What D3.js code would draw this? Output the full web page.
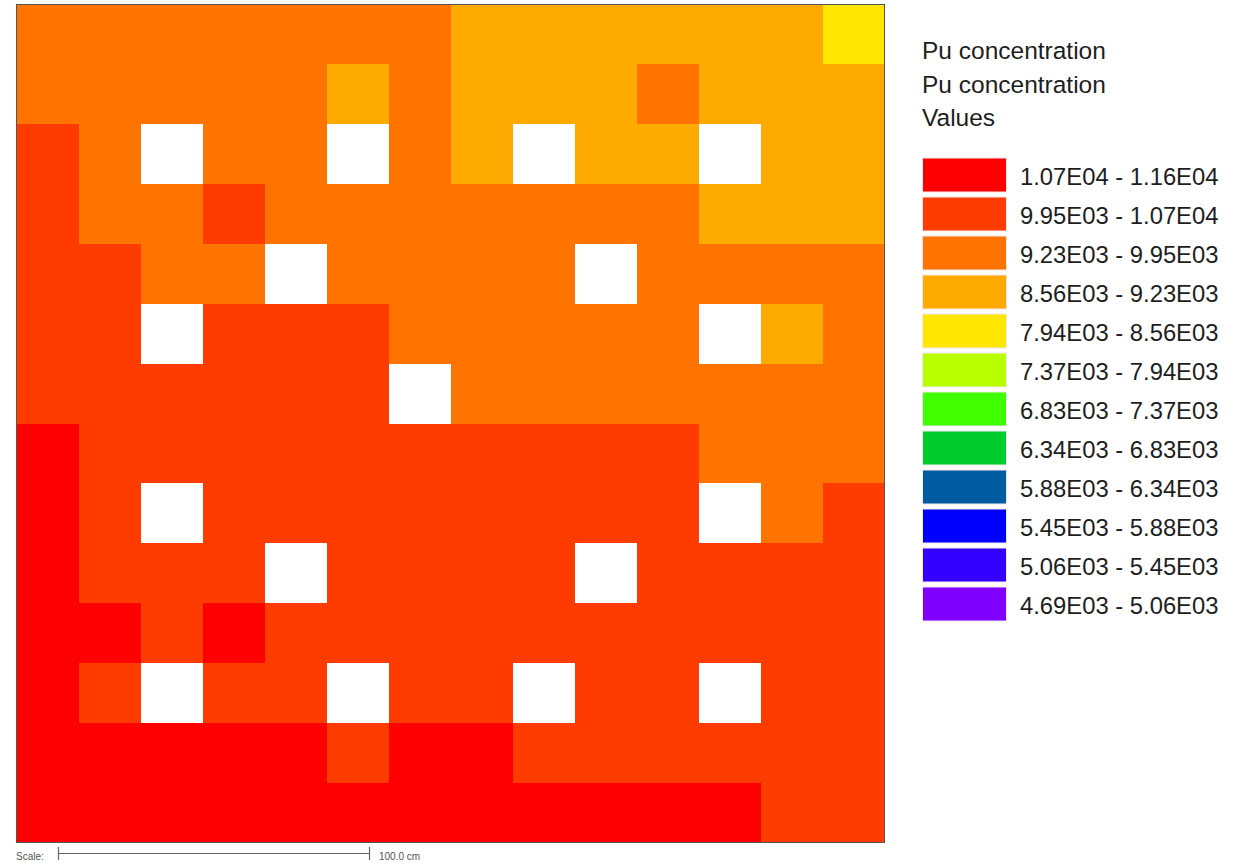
<!DOCTYPE html>
<html>
<head>
<meta charset="utf-8">
<script src="https://cdn.jsdelivr.net/npm/d3@7/dist/d3.min.js"></script>
<style>
  html, body { margin: 0; padding: 0; background: #fff; }
  svg { display: block; }
  text { font-family: "Liberation Sans", Arial, sans-serif; }
</style>
</head>
<body>
<svg id="chart" width="1248" height="864"></svg>
<script>
// ---- Data ----
const columns = d3.range(14);
const rows = d3.range(14);

// Bin thresholds (lower edges, ascending) and colours
const binEdges = [4690, 5060, 5450, 5880, 6340, 6830, 7370, 7940, 8560, 9230, 9950, 10700, 11600];
const binColors = ["#7f00ff", "#3300ff", "#0000ff", "#005ca0", "#00cc2e", "#40ff00",
                   "#b8ff00", "#ffe600", "#ffaa00", "#ff7300", "#ff3c00", "#ff0000"];
const legendLabels = ["1.07E04 - 1.16E04", "9.95E03 - 1.07E04", "9.23E03 - 9.95E03",
  "8.56E03 - 9.23E03", "7.94E03 - 8.56E03", "7.37E03 - 7.94E03", "6.83E03 - 7.37E03",
  "6.34E03 - 6.83E03", "5.88E03 - 6.34E03", "5.45E03 - 5.88E03", "5.06E03 - 5.45E03",
  "4.69E03 - 5.06E03"];
const titleLines = ["Pu concentration", "Pu concentration", "Values"];

// Estimated Pu concentration per cell (row 0 = top); null = no value (white)
const cellValues = [
  [9590, 9590, 9590, 9590, 9590, 9590, 9590, 8900, 8900, 8900, 8900, 8900, 8900, 8250],
  [9590, 9590, 9590, 9590, 9590, 8900, 9590, 8900, 8900, 8900, 9590, 8900, 8900, 8900],
  [10300, 9590, null, 9590, 9590, null, 9590, 8900, null, 8900, 8900, null, 8900, 8900],
  [10300, 9590, 9590, 10300, 9590, 9590, 9590, 9590, 9590, 9590, 9590, 8900, 8900, 8900],
  [10300, 10300, 9590, 9590, null, 9590, 9590, 9590, 9590, null, 9590, 9590, 9590, 9590],
  [10300, 10300, null, 10300, 10300, 10300, 9590, 9590, 9590, 9590, 9590, null, 8900, 9590],
  [10300, 10300, 10300, 10300, 10300, 10300, null, 9590, 9590, 9590, 9590, 9590, 9590, 9590],
  [11150, 10300, 10300, 10300, 10300, 10300, 10300, 10300, 10300, 10300, 10300, 9590, 9590, 9590],
  [11150, 10300, null, 10300, 10300, 10300, 10300, 10300, 10300, 10300, 10300, null, 9590, 10300],
  [11150, 10300, 10300, 10300, null, 10300, 10300, 10300, 10300, null, 10300, 10300, 10300, 10300],
  [11150, 11150, 10300, 11150, 10300, 10300, 10300, 10300, 10300, 10300, 10300, 10300, 10300, 10300],
  [11150, 10300, null, 10300, 10300, null, 10300, 10300, null, 10300, 10300, null, 10300, 10300],
  [11150, 11150, 11150, 11150, 11150, 10300, 11150, 11150, 10300, 10300, 10300, 10300, 10300, 10300],
  [11150, 11150, 11150, 11150, 11150, 11150, 11150, 11150, 11150, 11150, 11150, 11150, 10300, 10300]
];
const scaleLabel = "Scale:";
const scaleDistance = "100.0 cm";

// ---- Drawing ----
const svg = d3.select("#chart");

const x = d3.scaleBand().domain(columns).range([16.5, 884.5]).paddingInner(0).paddingOuter(0);
const y = d3.scaleBand().domain(rows).range([4.5, 842.5]).paddingInner(0).paddingOuter(0);

// pixel-snapped cell edges, shared between neighbouring cells
const xEdge = i => Math.round(i < columns.length ? x(columns[i]) : x.range()[1]);
const yEdge = i => Math.round(i < rows.length ? y(rows[i]) : y.range()[1]);

const color = d3.scaleThreshold()
  .domain(binEdges.slice(1, -1))
  .range(binColors);

const cells = [];
cellValues.forEach((r, ri) => r.forEach((v, ci) => cells.push({ r: ri, c: ci, v })));

svg.append("g")
  .attr("shape-rendering", "crispEdges")
  .selectAll("rect")
  .data(cells)
  .join("rect")
  .attr("x", d => xEdge(d.c))
  .attr("y", d => yEdge(d.r))
  .attr("width", d => xEdge(d.c + 1) - xEdge(d.c))
  .attr("height", d => yEdge(d.r + 1) - yEdge(d.r))
  .attr("fill", d => d.v == null ? "#ffffff" : color(d.v));

// Plot frame
svg.append("rect")
  .attr("x", x.range()[0]).attr("y", y.range()[0])
  .attr("width", x.range()[1] - x.range()[0])
  .attr("height", y.range()[1] - y.range()[0])
  .attr("fill", "none").attr("stroke", "#555").attr("stroke-width", 1);

// Legend title
const legend = svg.append("g");
legend.selectAll("text.title")
  .data(titleLines)
  .join("text")
  .attr("class", "title")
  .attr("x", 922)
  .attr("y", (d, i) => 59 + i * 33.5)
  .attr("font-size", 24.5)
  .attr("fill", "#1e1e1e")
  .text(d => d);

// Legend entries (top = highest bin)
const legendColors = binColors.slice().reverse();
const ly = d3.scaleBand().domain(d3.range(legendLabels.length)).range([155.5, 155.5 + 39 * 12]);

legend.selectAll("rect.sw")
  .data(legendLabels)
  .join("rect")
  .attr("class", "sw")
  .attr("x", 922.5)
  .attr("y", (d, i) => ly(i) + 2.5)
  .attr("width", 84)
  .attr("height", 34)
  .attr("fill", (d, i) => legendColors[i])
  .attr("stroke", "#f3e8ee")
  .attr("stroke-width", 1);

legend.selectAll("text.lab")
  .data(legendLabels)
  .join("text")
  .attr("class", "lab")
  .attr("x", 1020)
  .attr("y", (d, i) => ly(i) + 29)
  .attr("font-size", 23.8)
  .attr("fill", "#1e1e1e")
  .text(d => d);

// Scale bar
const sb = svg.append("g");
const sbScale = d3.scaleLinear().domain([0, 100]).range([58.5, 369.5]);
sb.append("text").attr("x", 16).attr("y", 860).attr("font-size", 10).attr("fill", "#555").text(scaleLabel);
sb.append("line").attr("x1", sbScale(0)).attr("x2", sbScale(100)).attr("y1", 853.5).attr("y2", 853.5)
  .attr("stroke", "#666").attr("stroke-width", 1.2);
[0, 100].forEach(v => {
  sb.append("line").attr("x1", sbScale(v)).attr("x2", sbScale(v)).attr("y1", 847).attr("y2", 860)
    .attr("stroke", "#666").attr("stroke-width", 1.2);
});
sb.append("text").attr("x", 379).attr("y", 860).attr("font-size", 10).attr("fill", "#555").text(scaleDistance);
</script>
</body>
</html>
